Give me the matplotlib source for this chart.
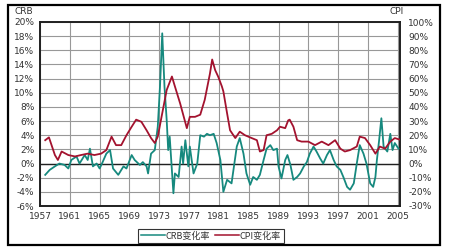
import matplotlib
matplotlib.use("Agg")
import matplotlib.pyplot as plt
from matplotlib.patches import Rectangle
from matplotlib.lines import Line2D

plt.rcParams['font.family'] = ['DejaVu Sans', 'Noto Sans CJK SC']

# CPI change (%), read against the left axis
cpi_years = [1957.7, 1958.2, 1959.0, 1959.4, 1959.9, 1960.8, 1961.7, 1962.5, 1963.4, 1964.3,
             1965.2, 1965.9, 1966.6, 1967.2, 1967.9, 1968.6, 1969.3, 1969.9, 1970.6, 1971.3,
             1971.9, 1972.4, 1972.8, 1973.4, 1974.0, 1974.7, 1975.1, 1975.8, 1976.7, 1977.1,
             1977.8, 1978.5, 1979.1, 1979.8, 1980.1, 1980.5, 1980.9, 1981.4, 1981.6, 1982.1,
             1982.5, 1983.2, 1983.8, 1984.5, 1985.4, 1986.1, 1986.5, 1987.0, 1987.4, 1988.1,
             1988.8, 1989.2, 1989.9, 1990.3, 1990.5, 1991.0, 1991.5, 1992.1, 1993.0, 1993.9,
             1994.8, 1995.7, 1996.6, 1997.3, 1997.9, 1998.6, 1999.5, 1999.9, 2000.6, 2001.3,
             2002.0, 2002.6, 2003.3, 2004.0, 2004.6, 2005.2]
cpi_values = [3.3, 3.7, 1.2, 0.5, 1.7, 1.2, 1.0, 1.2, 1.4, 1.2,
              1.4, 1.9, 3.8, 2.6, 2.6, 4.0, 5.2, 6.2, 5.9, 4.7,
              3.6, 2.9, 3.8, 7.1, 10.4, 12.3, 10.9, 8.5, 5.0, 6.6,
              6.6, 6.9, 9.0, 12.7, 14.7, 13.2, 12.3, 10.9, 10.2, 7.1,
              4.7, 3.6, 4.5, 4.0, 3.6, 3.3, 1.7, 1.9, 4.0, 4.2,
              4.7, 5.2, 5.0, 6.1, 6.2, 5.2, 3.3, 3.1, 3.1, 2.6,
              3.1, 2.6, 3.3, 2.1, 1.7, 1.9, 2.4, 3.8, 3.6, 2.6,
              1.4, 2.4, 2.1, 3.1, 3.6, 3.4]

# CRB change, read against the left axis
crb_years = [1957.7, 1958.3, 1959.0, 1959.6, 1960.3, 1960.8, 1961.2, 1961.9, 1962.3, 1963.0,
             1963.4, 1963.7, 1964.1, 1964.6, 1965.0, 1965.4, 1965.9, 1966.4, 1966.8, 1967.5,
             1968.2, 1968.6, 1969.3, 1969.7, 1970.4, 1970.8, 1971.3, 1971.5, 1971.9, 1972.4,
             1972.8, 1973.1, 1973.4, 1973.7, 1974.0, 1974.2, 1974.4, 1974.9, 1975.1, 1975.6,
             1976.0, 1976.2, 1976.5, 1976.9, 1977.1, 1977.6, 1978.1, 1978.5, 1979.0, 1979.4,
             1979.8, 1980.3, 1980.7, 1981.2, 1981.6, 1982.1, 1982.7, 1983.4, 1983.8, 1984.3,
             1984.7, 1985.2, 1985.6, 1986.1, 1986.5, 1987.0, 1987.4, 1987.9, 1988.3, 1988.8,
             1989.0, 1989.4, 1989.9, 1990.2, 1990.6, 1991.0, 1991.5, 1991.9, 1992.4, 1992.8,
             1993.2, 1993.7, 1994.1, 1994.6, 1995.0, 1995.5, 1995.9, 1996.4, 1996.8, 1997.3,
             1997.7, 1998.2, 1998.6, 1999.1, 1999.5, 1999.9, 2000.4, 2000.8, 2001.3, 2001.7,
             2002.0, 2002.2, 2002.5, 2002.8, 2003.1, 2003.6, 2004.0, 2004.3, 2004.6, 2005.1]
crb_values = [-1.6, -0.9, -0.4, 0.0, -0.2, -0.7, 0.5, 1.0, 0.0, 1.2,
              0.5, 2.1, -0.4, 0.0, -0.7, 0.2, 1.4, 1.9, -0.7, -1.6,
              -0.4, -0.7, 1.2, 0.5, -0.2, 0.2, -0.4, -1.4, 1.4, 1.9,
              5.2, 10.9, 18.4, 10.9, 6.1, 1.9, 3.8, -4.2, -1.4, -1.9,
              2.4, 0.0, 3.3, -0.4, 2.4, -1.4, 0.0, 4.0, 3.8, 4.2,
              4.0, 4.2, 2.9, 0.5, -4.0, -2.3, -2.8, 2.4, 3.6, 1.4,
              -1.4, -3.0, -1.9, -2.3, -1.6, 0.5, 2.1, 2.6, 1.9, 2.1,
              -0.4, -2.1, 0.5, 1.2, -0.2, -2.3, -1.9, -1.4, -0.4, 0.2,
              1.4, 2.4, 1.7, 0.7, 0.0, 1.2, 1.9, 0.5, -0.4, -0.9,
              -1.9, -3.3, -3.7, -2.8, 0.0, 2.6, 1.4, 0.0, -2.8, -3.3,
              -1.9, 0.5, 3.3, 6.4, 2.4, 1.7, 4.2, 1.9, 2.9, 2.1]

left_ticks = list(range(-6, 21, 2))
right_ticks = list(range(-30, 101, 10))
x_ticks = list(range(1957, 2006, 4))

W, H = 450, 250
fig = plt.figure(figsize=(W / 100, H / 100), dpi=100)
fig.patch.set_facecolor('white')

# outer frame
fig.add_artist(Rectangle((8 / W, 1 - 245 / H), (440 - 8) / W, (245 - 5) / H,
                         transform=fig.transFigure, fill=False, edgecolor='black', linewidth=1.6))

ax = fig.add_axes([40 / W, 1 - 206 / H, 360 / W, 184 / H])
ax.set_xlim(1957, 2005.3)
ax.set_ylim(-6, 20)
ax.set_yticks(left_ticks)
ax.set_yticklabels([f"{t}%" for t in left_ticks])
ax.set_xticks(x_ticks)
ax.set_xticklabels([str(t) for t in x_ticks])
ax.grid(True, color='#989898', linewidth=0.8)
ax.axhline(0, color='#202020', linewidth=1.0, zorder=2)
ax.tick_params(length=0, labelsize=6.5, colors='#333333', pad=4)
for s in ax.spines.values():
    s.set_linewidth(1.4)
    s.set_color('#202020')

ax.plot(crb_years, crb_values, color='#16897e', linewidth=1.3, zorder=3)
ax.plot(cpi_years, cpi_values, color='#a3122e', linewidth=1.3, zorder=4)

ax2 = ax.twinx()
ax2.set_ylim(-30, 100)
ax2.set_yticks(right_ticks)
ax2.set_yticklabels([f"{t}%" for t in right_ticks])
ax2.tick_params(length=0, labelsize=6.5, colors='#333333', pad=6)
for s in ax2.spines.values():
    s.set_visible(False)

fig.text(24 / W, 1 - 12 / H, "CRB", fontsize=6.5, color='#333333', ha='center', va='center')
fig.text(397 / W, 1 - 12 / H, "CPI", fontsize=6.5, color='#333333', ha='center', va='center')

handles = [Line2D([], [], color='#16897e', linewidth=1.1),
           Line2D([], [], color='#a3122e', linewidth=1.1)]
leg = fig.legend(handles, ["CRB变化率", "CPI变化率"], loc='center',
                 bbox_to_anchor=(211 / W, 1 - 236 / H), ncol=2, fontsize=6.5,
                 frameon=True, fancybox=False, handlelength=2.6, handletextpad=0.1,
                 columnspacing=0.6, borderpad=0.3, prop={'family': ['Noto Sans CJK SC'], 'size': 6.5})
leg.get_frame().set_edgecolor('black')
leg.get_frame().set_linewidth(0.8)
for t in leg.get_texts():
    t.set_color('#333333')

fig.savefig("out.png", dpi=100, facecolor='white')
